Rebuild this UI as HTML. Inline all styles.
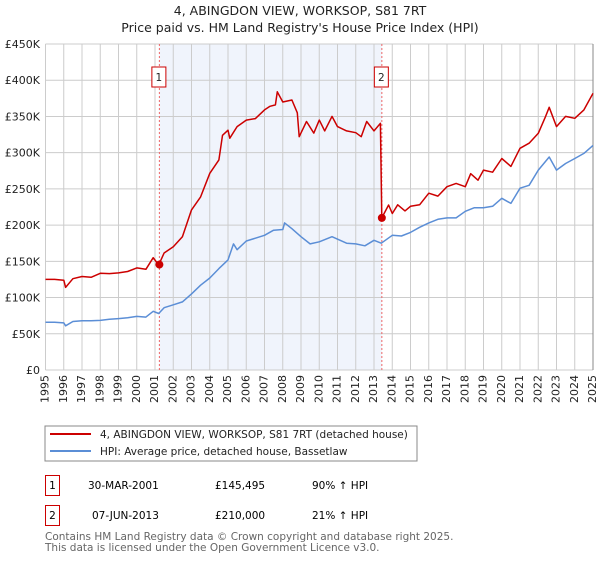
<!DOCTYPE html>
<html><head><meta charset="utf-8"><style>
body{margin:0;background:#fff;font-family:"Liberation Sans","DejaVu Sans",sans-serif;}
svg text{font-family:"DejaVu Sans","Liberation Sans",sans-serif;}
#wrap{position:relative;width:600px;height:560px;}
.xl{position:absolute;font-family:"DejaVu Sans","Liberation Sans",sans-serif;font-size:11px;color:#222;line-height:12px;writing-mode:vertical-rl;writing-mode:sideways-lr;white-space:nowrap;}
</style></head><body>
<div id="wrap">
<svg id="c" width="600" height="560" xmlns="http://www.w3.org/2000/svg">
<text x="300" y="15" text-anchor="middle" font-size="12.5" fill="#222">4, ABINGDON VIEW, WORKSOP, S81 7RT</text>
<text x="300" y="32" text-anchor="middle" font-size="12.5" fill="#222">Price paid vs. HM Land Registry's House Price Index (HPI)</text>
<g id="plot"></g>
<rect x="45" y="426" width="372" height="35" fill="#fff" stroke="#888"/>
<line x1="50" y1="434" x2="91" y2="434" stroke="#cc0000" stroke-width="2"/>
<text x="100" y="438" font-size="10.5" fill="#222">4, ABINGDON VIEW, WORKSOP, S81 7RT (detached house)</text>
<line x1="50" y1="451" x2="91" y2="451" stroke="#5b8ed6" stroke-width="2"/>
<text x="100" y="455" font-size="10.5" fill="#222">HPI: Average price, detached house, Bassetlaw</text>
<rect x="45.5" y="475.5" width="14" height="20" fill="#fff" stroke="#cc0000"/>
<text x="52.5" y="489" text-anchor="middle" font-size="10.5">1</text>
<text x="88" y="489" font-size="10.5">30-MAR-2001</text>
<text x="215" y="489" font-size="10.5">£145,495</text>
<text x="312" y="489" font-size="10.5">90% ↑ HPI</text>
<rect x="45.5" y="505.5" width="14" height="20" fill="#fff" stroke="#cc0000"/>
<text x="52.5" y="519" text-anchor="middle" font-size="10.5">2</text>
<text x="92" y="519" font-size="10.5">07-JUN-2013</text>
<text x="215" y="519" font-size="10.5">£210,000</text>
<text x="312" y="519" font-size="10.5">21% ↑ HPI</text>
<text x="45" y="540" font-size="10.5" fill="#666">Contains HM Land Registry data © Crown copyright and database right 2025.</text>
<text x="45" y="551" font-size="10.5" fill="#666">This data is licensed under the Open Government Licence v3.0.</text>
</svg>
</div>
<script>
const yTicks=[0,50000,100000,150000,200000,250000,300000,350000,400000,450000];
const yTickLabels=["£0","£50K","£100K","£150K","£200K","£250K","£300K","£350K","£400K","£450K"];
const xYears=[1995,1996,1997,1998,1999,2000,2001,2002,2003,2004,2005,2006,2007,2008,2009,2010,2011,2012,2013,2014,2015,2016,2017,2018,2019,2020,2021,2022,2023,2024,2025];
const saleDates=[2001.24,2013.43];
const salePrices=[145495,210000];
const saleLabels=["1","2"];
const hpiT=[1995,1995.5,1996,1996.1,1996.5,1997,1997.5,1998,1998.5,1999,1999.5,2000,2000.5,2000.9,2001.2,2001.5,2002,2002.5,2003,2003.5,2004,2004.5,2005,2005.3,2005.5,2006,2006.5,2007,2007.5,2008,2008.1,2008.5,2009,2009.5,2010,2010.7,2011.5,2012,2012.5,2013,2013.4,2014,2014.5,2015,2015.5,2016,2016.5,2017,2017.5,2018,2018.5,2019,2019.5,2020,2020.5,2021,2021.5,2022,2022.6,2023,2023.5,2024,2024.5,2025];
const hpiV=[66,66,65,61,67,68,68,68.5,70,71,72,74,73,81,78,86,90,94,105,117,127,140,152,174,166,178,182,186,193,194,203,195,184,174,177,184,175,174,171.5,179,175,186,185,190,197,203,208,210,210,219,224,224,226,237,230,251,255,276,294,276,285,292,299,310];
const ppT=[1995,1995.5,1996,1996.1,1996.5,1997,1997.5,1998,1998.5,1999,1999.5,2000,2000.5,2000.9,2001.2,2001.5,2002,2002.5,2003,2003.5,2004,2004.5,2004.7,2005,2005.1,2005.5,2006,2006.5,2007,2007.3,2007.6,2007.7,2008,2008.5,2008.8,2008.9,2009.3,2009.7,2010,2010.3,2010.7,2011,2011.5,2012,2012.3,2012.6,2013,2013.35,2013.43,2013.8,2014,2014.3,2014.7,2015,2015.5,2016,2016.5,2017,2017.5,2018,2018.3,2018.7,2019,2019.5,2020,2020.5,2021,2021.5,2022,2022.4,2022.6,2023,2023.5,2024,2024.5,2025];
const ppV=[125,125,124,114,126,129,128,133.5,133,134,136,141,139,155,145,161.5,170,184,221,239,271.5,290,324,331,320,336,345,347,359,364,366,384,370,372.7,355,322,343,327,345,330,350,336,330,327.5,322,343,330,340.5,210,227.8,216,228,219.6,226,228,244,240,253,257.6,253,271,262,276,273,292,281,306,313,326.7,350,362.6,336,350,347.5,359,382];

const L=45.5,R=593,T=44,B=370;
const xs=y=>L+(y-1995)/30*(R-L);
const ys=v=>B-v/450000*(B-T);
const NS="http://www.w3.org/2000/svg";
const g=document.getElementById('plot');
const wrapDiv=document.getElementById('wrap');
function mk(tag,at){const e=document.createElementNS(NS,tag);for(const k in at)e.setAttribute(k,at[k]);g.appendChild(e);return e;}
let e=mk('rect',{x:xs(saleDates[0]),y:T,width:xs(saleDates[1])-xs(saleDates[0]),height:B-T,fill:'#f0f4fc'});


xYears.forEach(yr=>{
 const x=xs(yr);
 let l=mk('line',{x1:x,y1:T,x2:x,y2:B,stroke:'#cccccc','stroke-width':1});
 
 
 const d=document.createElement('div');
 d.className='xl';
 d.textContent=String(yr);
 d.style.left=(x-6)+'px';
 d.style.top=(B+5)+'px';
 
 
 wrapDiv.appendChild(d);
});
yTicks.forEach((v,i)=>{
 const y=ys(v);
 let l=mk('line',{x1:L,y1:y,x2:R,y2:y,stroke:'#cccccc','stroke-width':1});
 
 
 let t=mk('text',{x:40,y:y+4,'text-anchor':'end','font-size':11,fill:'#222'});
 t.textContent=yTickLabels[i];
 
 
});
e=mk('line',{x1:R,y1:T,x2:R,y2:B,stroke:'#888','stroke-width':1});


saleDates.forEach((d,i)=>{
 const x=xs(d);
 let l=mk('line',{x1:x,y1:T,x2:x,y2:B,stroke:'#ee6666','stroke-width':1,'stroke-dasharray':'2,2'});
 
 
 let r=mk('rect',{x:x-7.5,y:67,width:14,height:20,fill:'#fff',stroke:'#cc0000'});
 
 
 let t=mk('text',{x:x-0.5,y:81,'text-anchor':'middle','font-size':10.5,fill:'#222'});
 t.textContent=saleLabels[i];
 
 
});
const pts=(T_,V_)=>T_.map((t,i)=>xs(t).toFixed(1)+','+ys(V_[i]*1000).toFixed(1)).join(' ');
e=mk('polyline',{points:pts(hpiT,hpiV),fill:'none',stroke:'#5b8ed6','stroke-width':1.5,'stroke-linejoin':'round'});


e=mk('polyline',{points:pts(ppT,ppV),fill:'none',stroke:'#cc0000','stroke-width':1.5,'stroke-linejoin':'round'});


saleDates.forEach((d,i)=>{
 let c=mk('circle',{cx:xs(d),cy:ys(salePrices[i]),r:4,fill:'#cc0000'});
 
 
});
</script>
</body></html>
